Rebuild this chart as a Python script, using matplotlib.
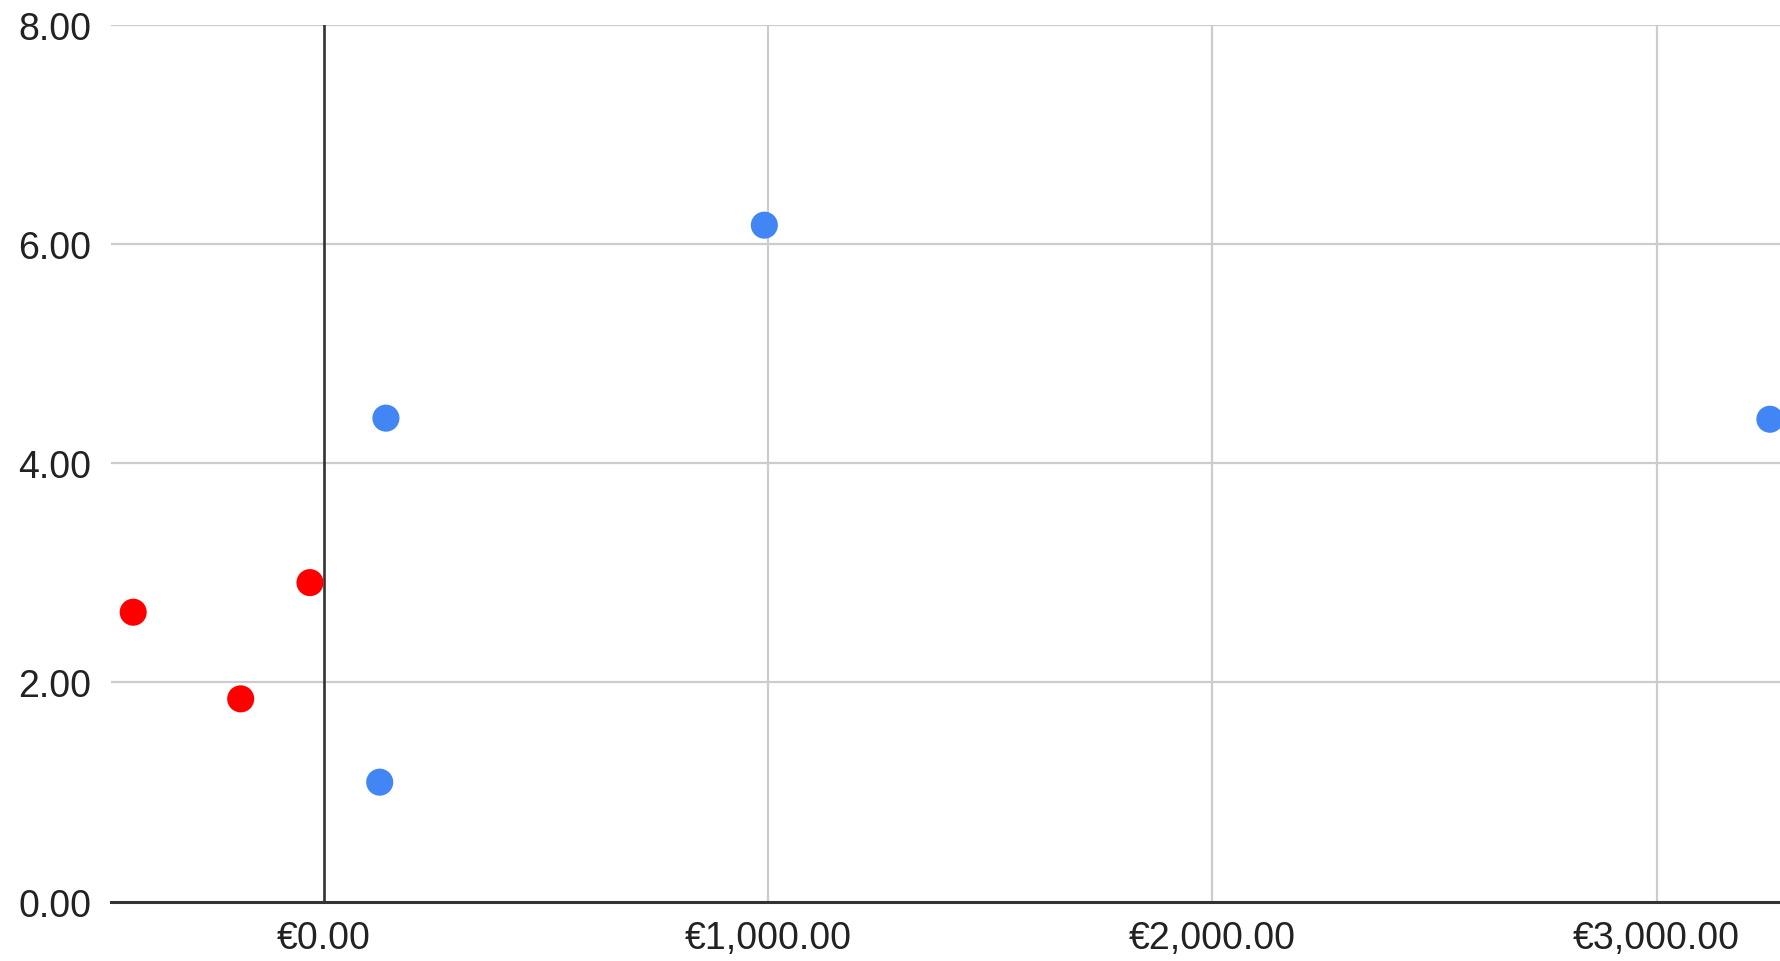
import matplotlib
matplotlib.use("Agg")
import matplotlib.pyplot as plt
from matplotlib.ticker import FuncFormatter

# data
blue_x = [125, 139, 991, 3255]
blue_y = [1.09, 4.41, 6.17, 4.40]
red_x = [-430, -188, -32]
red_y = [2.64, 1.85, 2.91]

x_ticks = [0, 1000, 2000, 3000]
y_ticks = [0, 2, 4, 6, 8]

plt.rcParams['font.family'] = ['Liberation Sans', 'DejaVu Sans']

fig = plt.figure(figsize=(17.81, 9.62), dpi=100)
ax = fig.add_axes([111 / 1781, 59.3 / 962, 1 - 111 / 1781, (902.7 - 25.5) / 962])

ax.set_xlim(-480, 3280)
ax.set_ylim(0, 8)

# grid
for xv in x_ticks[1:]:
    ax.axvline(xv, color='#cccccc', lw=1.6, zorder=1)
for yv in y_ticks[1:]:
    ax.axhline(yv, color='#cccccc', lw=1.6, zorder=1)
# zero lines
ax.axvline(0, color='#333333', lw=1.9, zorder=2)
ax.axhline(0, color='#333333', lw=2.2, zorder=2, clip_on=False)

ax.scatter(blue_x, blue_y, s=380, color='#4285F4', edgecolors='none', zorder=3, clip_on=False)
ax.scatter(red_x, red_y, s=380, color='#FF0000', edgecolors='none', zorder=3, clip_on=False)

ax.set_xticks(x_ticks)
ax.set_yticks(y_ticks)
ax.xaxis.set_major_formatter(FuncFormatter(lambda v, p: '€{:,.2f}'.format(v)))
ax.yaxis.set_major_formatter(FuncFormatter(lambda v, p: '{:.2f}'.format(v)))
ax.tick_params(axis='both', length=0, labelsize=27, colors='#222222')
ax.tick_params(axis='y', pad=14)
ax.tick_params(axis='x', pad=13)

for s in ax.spines.values():
    s.set_visible(False)

fig.savefig('out.png', dpi=100)
